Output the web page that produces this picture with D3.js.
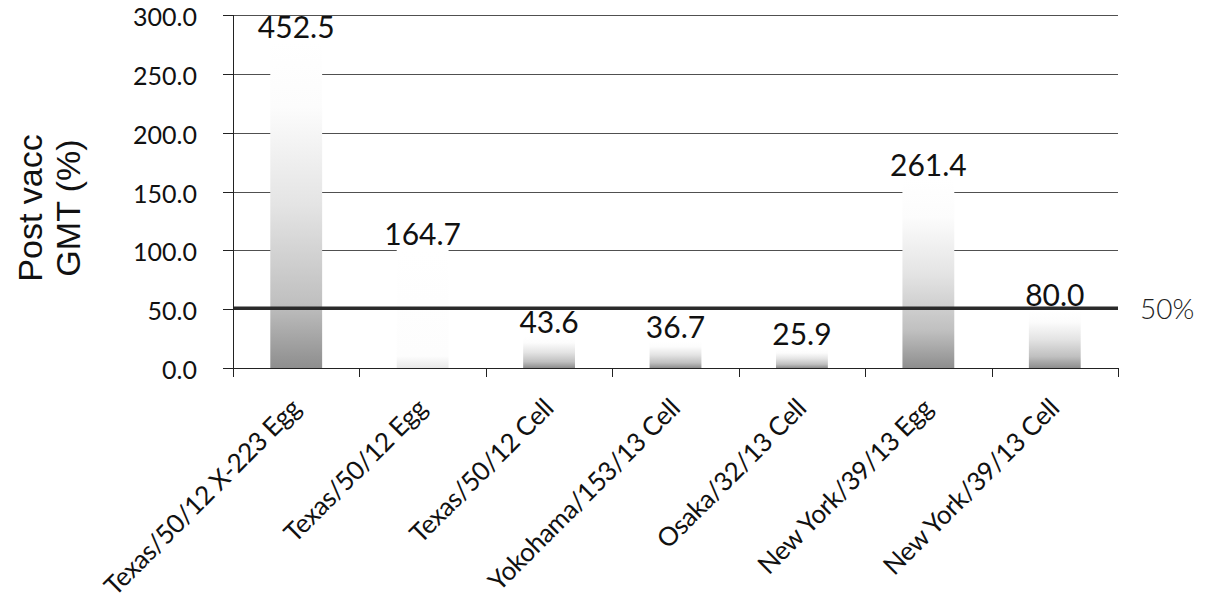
<!DOCTYPE html>
<html>
<head>
<meta charset="utf-8">
<script src="https://cdn.jsdelivr.net/npm/d3@7"></script>
<style>
  html, body { margin: 0; padding: 0; background: #ffffff; }
  svg { display: block; }
</style>
</head>
<body>
<svg id="chart" width="1210" height="607"></svg>
<script>
// Vaccine strains on the category axis
const categories = [
  "Texas/50/12 X-223 Egg",
  "Texas/50/12 Egg",
  "Texas/50/12 Cell",
  "Yokohama/153/13 Cell",
  "Osaka/32/13 Cell",
  "New York/39/13 Egg",
  "New York/39/13 Cell"
];

// Post-vaccination GMT values printed above each bar
const gmtValues = [452.5, 164.7, 43.6, 36.7, 25.9, 261.4, 80.0];

// Left axis ticks (percent scale)
const yTickValues = [0, 50, 100, 150, 200, 250, 300];

// Reference line
const thresholdValue = 50;
const thresholdLabel = "50%";

// Bars rendered almost blank
const faintCategories = ["Texas/50/12 Egg"];

const axisTitleLines = ["Post vacc", "GMT (%)"];

// ---- layout ----
const plot = { left: 233, right: 1118, top: 15, bottom: 368 };

const svg = d3.select("#chart");

const x = d3.scaleBand()
  .domain(categories)
  .range([plot.left, plot.right])
  .paddingInner(0.59)
  .paddingOuter(0.295);

// axis scale (percent)
const y = d3.scaleLinear().domain([0, 300]).range([plot.bottom, plot.top]);
// bar scale (GMT)
const yBar = d3.scaleLinear().domain([0, 490]).range([plot.bottom, plot.top]);

const defs = svg.append("defs");
function addFade(id, stops) {
  const g = defs.append("linearGradient")
    .attr("id", id)
    .attr("x1", 0).attr("y1", 0).attr("x2", 0).attr("y2", 1);
  stops.forEach(([o, c]) => g.append("stop").attr("offset", o).attr("stop-color", c));
}
addFade("barFade", [[0, "#ffffff"], [0.2, "#fcfcfc"], [0.5, "#e4e4e4"], [0.8, "#c0c0c0"], [1, "#8e8e8e"]]);
addFade("barFadeFaint", [[0, "#ffffff"], [0.9, "#fdfdfd"], [1, "#e8e8e8"]]);

// gridlines
svg.append("g")
  .selectAll("line")
  .data(yTickValues.filter(d => d > 0))
  .join("line")
  .attr("x1", plot.left).attr("x2", plot.right)
  .attr("y1", d => Math.round(y(d)) + 0.5).attr("y2", d => Math.round(y(d)) + 0.5)
  .attr("stroke", "#505050")
  .attr("stroke-width", 1);

// bars
svg.append("g")
  .selectAll("rect")
  .data(categories.map((c, i) => ({ c, v: gmtValues[i] })))
  .join("rect")
  .attr("x", d => x(d.c))
  .attr("width", x.bandwidth())
  .attr("y", d => yBar(d.v))
  .attr("height", d => plot.bottom - yBar(d.v))
  .attr("fill", d => faintCategories.includes(d.c) ? "url(#barFadeFaint)" : "url(#barFade)");

// threshold line
svg.append("line")
  .attr("x1", plot.left).attr("x2", plot.right)
  .attr("y1", y(thresholdValue) - 1).attr("y2", y(thresholdValue) - 1)
  .attr("stroke", "#2a2a2a")
  .attr("stroke-width", 3.5);

svg.append("text")
  .attr("x", plot.right + 22)
  .attr("y", y(thresholdValue))
  .attr("dy", "0.36em")
  .attr("font-family", "Lato, sans-serif")
  .attr("font-weight", 300)
  .attr("font-size", 28)
  .attr("fill", "#222")
  .text(thresholdLabel);

// y axis
const yAxis = svg.append("g");
yAxis.append("line")
  .attr("x1", plot.left + 0.5).attr("x2", plot.left + 0.5)
  .attr("y1", plot.top).attr("y2", plot.bottom)
  .attr("stroke", "#222");
yAxis.selectAll("line.tick")
  .data(yTickValues)
  .join("line")
  .attr("class", "tick")
  .attr("x1", plot.left - 10).attr("x2", plot.left)
  .attr("y1", d => Math.round(y(d)) + 0.5).attr("y2", d => Math.round(y(d)) + 0.5)
  .attr("stroke", "#222");
yAxis.selectAll("text")
  .data(yTickValues)
  .join("text")
  .attr("x", plot.left - 36)
  .attr("y", d => y(d) + 2)
  .attr("dy", "0.36em")
  .attr("text-anchor", "end")
  .attr("font-family", "Lato, sans-serif")
  .attr("font-size", 25)
  .attr("fill", "#111")
  .text(d => d3.format(".1f")(d));

// y axis title
const title = svg.append("text")
  .attr("transform", `translate(42, 208) rotate(-90)`)
  .attr("text-anchor", "middle")
  .attr("font-family", "Liberation Sans, Arial, sans-serif")
  .attr("font-size", 34)
  .attr("fill", "#111");
axisTitleLines.forEach((t, i) => {
  title.append("tspan")
    .attr("x", 0)
    .attr("y", i * 38)
    .text(t);
});

// x axis
const xAxis = svg.append("g");
xAxis.append("line")
  .attr("x1", plot.left).attr("x2", plot.right)
  .attr("y1", plot.bottom + 0.5).attr("y2", plot.bottom + 0.5)
  .attr("stroke", "#222");
const boundaries = d3.range(categories.length + 1).map(i => plot.left + i * x.step());
xAxis.selectAll("line.tick")
  .data(boundaries)
  .join("line")
  .attr("class", "tick")
  .attr("x1", d => Math.round(d) + 0.5).attr("x2", d => Math.round(d) + 0.5)
  .attr("y1", plot.bottom).attr("y2", plot.bottom + 9)
  .attr("stroke", "#222");
xAxis.selectAll("text")
  .data(categories)
  .join("text")
  .attr("transform", d => `translate(${x(d) + x.bandwidth() / 2 + 6}, ${plot.bottom + 42}) rotate(-45)`)
  .attr("text-anchor", "end")
  .attr("font-family", "Lato, sans-serif")
  .attr("font-size", 26)
  .attr("letter-spacing", -0.4)
  .attr("fill", "#111")
  .text(d => d);

// value labels
svg.append("g")
  .selectAll("text")
  .data(categories.map((c, i) => ({ c, v: gmtValues[i] })))
  .join("text")
  .attr("x", d => x(d.c) + x.bandwidth() / 2)
  .attr("y", d => yBar(d.v) - 4)
  .attr("text-anchor", "middle")
  .attr("font-family", "Lato, sans-serif")
  .attr("font-size", 30)
  .attr("fill", "#111")
  .text(d => d3.format(".1f")(d.v));
</script>
</body>
</html>
